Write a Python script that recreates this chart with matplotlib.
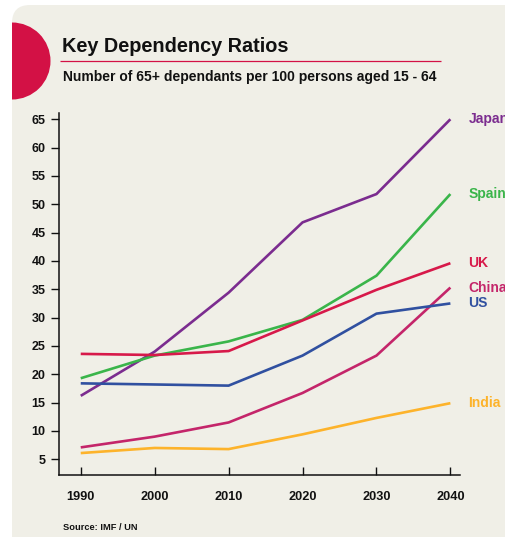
import matplotlib
matplotlib.use("Agg")
import matplotlib.pyplot as plt
from matplotlib.patches import FancyBboxPatch, Circle

plt.rcParams['font.family'] = ['Liberation Sans', 'DejaVu Sans']

years = [1990, 2000, 2010, 2020, 2030, 2040]
japan = [16.2, 24.0, 34.4, 46.8, 51.8, 65.0]
spain = [19.3, 23.3, 25.8, 29.6, 37.4, 51.8]
uk = [23.6, 23.4, 24.1, 29.5, 34.9, 39.6]
china = [7.1, 9.0, 11.5, 16.7, 23.3, 35.3]
us = [18.4, 18.2, 18.0, 23.3, 30.7, 32.5]
india = [6.1, 7.0, 6.8, 9.4, 12.3, 14.9]
series_names = ["Japan", "Spain", "UK", "China", "US", "India"]
series_values = [japan, spain, uk, china, us, india]
colors = ["#7B2C8F", "#3AB54A", "#D7194A", "#C4256A", "#3050A0", "#FDB32B"]
yticks = [5, 10, 15, 20, 25, 30, 35, 40, 45, 50, 55, 60, 65]

W, H = 506, 537
fig = plt.figure(figsize=(W / 100, H / 100), dpi=100)
fig.patch.set_facecolor("white")

# background / decoration axes in pixel coordinates
bg = fig.add_axes([0, 0, 1, 1], zorder=-1)
bg.set_xlim(0, W)
bg.set_ylim(H, 0)
bg.axis("off")
panel = FancyBboxPatch((12, 5), 540, 560, boxstyle="round,pad=0,rounding_size=18",
                       facecolor="#F0EFE7", edgecolor="none")
bg.add_patch(panel)
circ = Circle((12, 61), 38.5, facecolor="#D31145", edgecolor="none")
bg.add_patch(circ)
circ.set_clip_path(panel)
bg.plot([60, 441], [61, 61], color="#D31145", lw=0.9, solid_capstyle="butt")
bg.text(62, 51.5, "Key Dependency Ratios", fontsize=14.3, fontweight="bold",
        va="baseline", ha="left", color="#111111")
bg.text(63.3, 81, "Number of 65+ dependants per 100 persons aged 15 - 64", fontsize=10,
        fontweight="bold", va="baseline", ha="left", color="#111111")
bg.text(62.7, 530, "Source: IMF / UN", fontsize=6.7, fontweight="bold",
        va="baseline", ha="left", color="#111111")

# main chart axes
ax = fig.add_axes([59.3 / W, 1 - 475 / H, (460 - 59.3) / W, (475 - 113) / H])
ax.set_facecolor("none")
for name, vals, c in zip(series_names, series_values, colors):
    ax.plot(years, vals, color=c, lw=1.9, solid_capstyle="butt")
    ax.annotate(name, xy=(years[-1], vals[-1]), xytext=(13, 0), textcoords="offset points",
                color=c, fontsize=10, fontweight="bold", va="center", ha="left",
                annotation_clip=False)

ax.set_xlim(1987.1, 2041.3)
ax.set_ylim(2.23, 66.1)
ax.set_xticks(years)
ax.set_yticks(yticks)
ax.spines["top"].set_visible(False)
ax.spines["right"].set_visible(False)
for s in ["left", "bottom"]:
    ax.spines[s].set_linewidth(1.1)
    ax.spines[s].set_color("#111111")
ax.tick_params(axis="y", direction="out", length=6, width=1.0, pad=4,
               labelsize=9, colors="#111111")
ax.tick_params(axis="x", direction="in", length=6, width=1.0, pad=11.5,
               labelsize=9.2, colors="#111111")
for lab in ax.get_xticklabels() + ax.get_yticklabels():
    lab.set_fontweight("bold")

fig.savefig("out.png", dpi=100)
